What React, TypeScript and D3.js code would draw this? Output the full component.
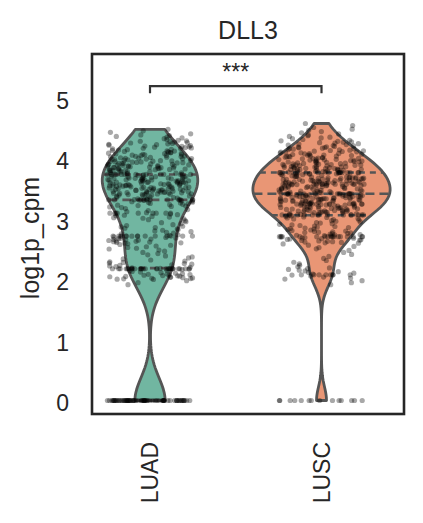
import React from "react";
import * as d3 from "d3";

// ---------- data ----------
const title = "DLL3";
const yLabel = "log1p_cpm";
const sigLabel = "***";
const categories = ["LUAD", "LUSC"];
const yTicks = [0, 1, 2, 3, 4, 5];
// number of samples exactly at 0
const zeroCounts = [70, 14];
// tied values that form visible rows of points
const luadLevels = [2.18, 2.72, 3.1, 3.32, 3.74];
const luadLevelCounts = [28, 14, 8, 12, 12];
const luscLevels = [2.08, 2.71, 3.07, 3.25, 3.42, 3.58, 3.77];
const luscLevelCounts = [8, 14, 14, 10, 14, 10, 14];
// remaining samples, by lower edge of 0.1-wide value bins
const binLower = [1.9, 2.0, 2.1, 2.2, 2.3, 2.4, 2.5, 2.6, 2.7, 2.8, 2.9, 3.0, 3.1, 3.2, 3.3, 3.4, 3.5, 3.6, 3.7, 3.8, 3.9, 4.0, 4.1, 4.2, 4.3, 4.4, 4.5];
const luadBinCounts = [3, 20, 10, 10, 6, 5, 8, 16, 8, 9, 6, 10, 6, 14, 15, 32, 32, 32, 17, 28, 24, 21, 17, 14, 8, 4, 0];
const luscBinCounts = [3, 6, 8, 4, 3, 3, 5, 16, 16, 12, 10, 12, 30, 26, 37, 22, 27, 36, 21, 30, 25, 22, 18, 13, 8, 5, 3];
const levels = [luadLevels, luscLevels];
const levelCounts = [luadLevelCounts, luscLevelCounts];
const binCounts = [luadBinCounts, luscBinCounts];
const fillColors = ["#71b6a1", "#e99675"];

// ---------- layout ----------
const W = 423, H = 523;
const frame = { left: 92, right: 404, top: 54, bottom: 414 };
const BIN_W = 0.1;
const VIOLIN_WIDTH = 0.8;
const JITTER = 0.25;
const FONT = "'Liberation Sans', Arial, sans-serif";
const TEXT = "#262626";
const LINE = "#555555";

function expandValues(gi: number): number[] {
  const vals: number[] = [];
  for (let k = 0; k < zeroCounts[gi]; k++) vals.push(0);
  const lv = levels[gi];
  const lc = levelCounts[gi];
  const bc = binCounts[gi];
  binLower.forEach((lo, b) => {
    const n = bc[b];
    for (let j = 0; j < n; j++) vals.push(lo + ((j + 0.5) / n) * BIN_W);
    lv.forEach((v, li) => {
      if (v >= lo && v < lo + BIN_W - 1e-9) for (let k = 0; k < lc[li]; k++) vals.push(v);
    });
  });
  return vals;
}

// deterministic jitter offset in [-0.5, 0.5)
function jitterOffset(i: number, g: number) {
  const s = Math.sin(i * 12.9898 + g * 78.233 + 1.7) * 43758.5453;
  return s - Math.floor(s) - 0.5;
}

function kde(values: number[], gridsize = 100) {
  const n = values.length;
  const sd = d3.deviation(values) as number;
  const bw = sd * Math.pow(n, -1 / 5);
  const lo = d3.min(values) as number;
  const hi = d3.max(values) as number;
  const support = d3.range(gridsize).map((i) => lo + ((hi - lo) * i) / (gridsize - 1));
  const norm = 1 / (n * bw * Math.sqrt(2 * Math.PI));
  const density = support.map((t) => {
    let s = 0;
    for (const v of values) {
      const z = (t - v) / bw;
      s += Math.exp(-0.5 * z * z);
    }
    return s * norm;
  });
  return { support, density };
}

function densityAt(support: number[], density: number[], v: number) {
  const i = d3.bisectLeft(support, v);
  if (i <= 0) return density[0];
  if (i >= support.length) return density[density.length - 1];
  const t = (v - support[i - 1]) / (support[i] - support[i - 1]);
  return density[i - 1] + t * (density[i] - density[i - 1]);
}

export default function App() {
  const x = d3.scaleLinear().domain([-0.3382, 1.481]).range([frame.left, frame.right]);
  const y = d3.scaleLinear().domain([-0.2234, 5.733]).range([frame.bottom, frame.top]);
  const unit = x(1) - x(0);

  const groups = categories.map((cat, gi) => {
    const values = expandValues(gi);
    const { support, density } = kde(values);
    const sorted = values.slice().sort((a, b) => a - b);
    const quart = [0.25, 0.5, 0.75].map((p) => d3.quantile(sorted, p) as number);
    return { cat, gi, values, support, density, quart };
  });
  const maxDens = d3.max(groups, (g) => d3.max(g.density) as number) as number;
  const hwScale = d3.scaleLinear().domain([0, maxDens]).range([0, (VIOLIN_WIDTH / 2) * unit]);

  return (
    <svg width={W} height={H} style={{ position: "absolute", left: 0, top: 0, background: "#fff" }} fontFamily={FONT}>
      <rect x={0} y={0} width={W} height={H} fill="#fff" />
      {/* violins */}
      {groups.map((g) => {
        const xc = x(g.gi);
        const pts = g.support.map((s, i) => ({ v: s, hw: hwScale(g.density[i]) }));
        const area = d3
          .area<{ v: number; hw: number }>()
          .x0((d) => xc - d.hw)
          .x1((d) => xc + d.hw)
          .y((d) => y(d.v));
        const left = pts.map((d) => [xc - d.hw, y(d.v)] as [number, number]);
        const right = pts.map((d) => [xc + d.hw, y(d.v)] as [number, number]).reverse();
        const ring = d3.line()([...left, ...right]) + "Z";
        return (
          <g key={g.cat}>
            <path d={area(pts) || ""} fill={fillColors[g.gi]} stroke="none" />
            <path d={ring} fill="none" stroke={LINE} strokeWidth={2.8} strokeLinejoin="round" />
            {g.quart.map((q, qi) => {
              const hw = hwScale(densityAt(g.support, g.density, q));
              return (
                <line
                  key={qi}
                  x1={xc - hw}
                  x2={xc + hw}
                  y1={y(q)}
                  y2={y(q)}
                  stroke={LINE}
                  strokeWidth={2.6}
                  strokeDasharray={qi === 1 ? "9,5" : "6,5"}
                />
              );
            })}
          </g>
        );
      })}
      {/* jittered points */}
      {groups.map((g) =>
        g.values.map((v, i) => (
          <circle
            key={g.cat + i}
            cx={x(g.gi + jitterOffset(i, g.gi) * 2 * JITTER)}
            cy={y(v)}
            r={2.6}
            fill="#000"
            fillOpacity={0.34}
          />
        ))
      )}
      {/* frame */}
      <rect
        x={frame.left}
        y={frame.top}
        width={frame.right - frame.left}
        height={frame.bottom - frame.top}
        fill="none"
        stroke={TEXT}
        strokeWidth={2.6}
      />
      {/* y ticks */}
      {yTicks.map((t) => (
        <text key={t} x={69} y={y(t) + 2.5} dy="0.35em" textAnchor="end" fontSize={23} fill={TEXT}>
          {t}
        </text>
      ))}
      {/* x tick labels */}
      {categories.map((c, i) => (
        <text
          key={c}
          transform={`translate(${x(i) + 8.3},442) rotate(-90)`}
          textAnchor="end"
          fontSize={23}
          fill={TEXT}
        >
          {c}
        </text>
      ))}
      {/* y label */}
      <text
        transform={`translate(39,${(frame.top + frame.bottom) / 2 + 4}) rotate(-90)`}
        textAnchor="middle"
        fontSize={25}
        fill={TEXT}
      >
        {yLabel}
      </text>
      {/* title */}
      <text x={(frame.left + frame.right) / 2} y={38.5} textAnchor="middle" fontSize={25} fill={TEXT}>
        {title}
      </text>
      {/* significance bracket */}
      <path
        d={`M${x(0)},${y(5.2) + 7}V${y(5.2)}H${x(1)}V${y(5.2) + 7}`}
        fill="none"
        stroke="#333"
        strokeWidth={2.2}
      />
      <text x={(x(0) + x(1)) / 2} y={y(5.2) - 6} textAnchor="middle" fontSize={23} fill={TEXT}>
        {sigLabel}
      </text>
    </svg>
  );
}
